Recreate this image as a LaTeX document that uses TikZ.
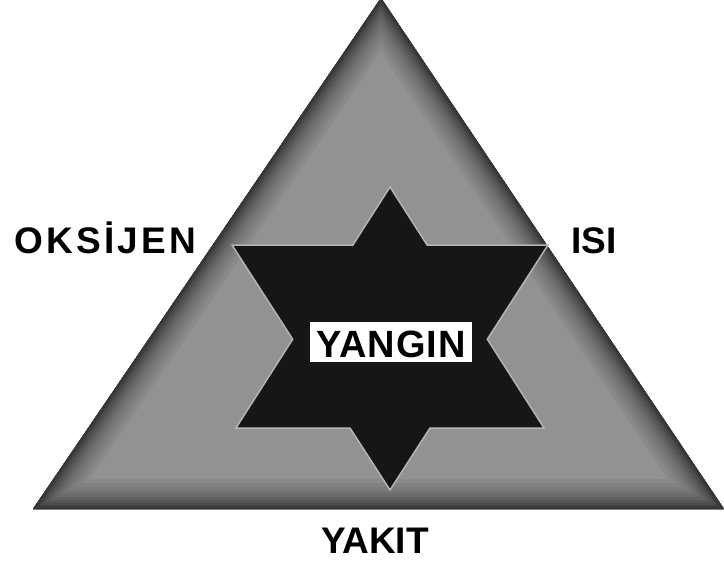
\documentclass[tikz,border=0pt]{standalone}
\usepackage{fontspec}
\setmainfont{Liberation Sans}
\definecolor{trimid}{HTML}{929292}
\definecolor{tridark}{HTML}{2E2E2E}
\definecolor{starfill}{HTML}{161616}
\definecolor{starline}{HTML}{B4B4B4}
\begin{document}
\begin{tikzpicture}[x=1pt,y=-1pt,
  lbl/.style={font=\fontsize{36}{40}\selectfont\bfseries, inner sep=0pt, text=black},
  tri/.style={line join=round}]
\useasboundingbox (0,0) rectangle (724,565);
% triangle
\coordinate (T1) at (33,509);
\coordinate (T2) at (724,509);
\coordinate (T3) at (381,-2);
\fill[trimid] (T1)--(T2)--(T3)--cycle;
\begin{scope}
  \clip (T1)--(T2)--(T3)--cycle;
  \foreach \w/\p in {60/8,52/16,44/24,36/32,30/40,24/50,18/60,13/70,8/82,4/92} {
    \draw[tridark!\p!trimid, line width=\w, tri] (T1)--(T2)--(T3)--cycle;
  }
\end{scope}
% star
\filldraw[fill=starfill, draw=starline, line width=1.5, line join=miter]
  (390,187) -- (427.1,245) -- (548,245) -- (487.3,339.2) -- (544,428) -- (430,428)
  -- (390,490) -- (350,428) -- (236,428) -- (292.7,339.2) -- (232,245) -- (352.9,245) -- cycle;
% labels
\node[lbl, fill=white, text height=35pt, text depth=5pt, inner xsep=6pt, anchor=base,
      font=\fontsize{38}{40}\selectfont\bfseries\addfontfeatures{LetterSpace=3}]
      (yangin) at (391,357) {YANGIN};
\node[lbl, anchor=base west, font=\fontsize{37}{40}\selectfont\bfseries\addfontfeatures{LetterSpace=9}]
      (oksijen) at (14,253) {OKSİJEN};
\node[lbl, anchor=base west, font=\fontsize{37}{40}\selectfont\bfseries] (isi) at (571,253) {ISI};
\node[lbl, anchor=base, font=\fontsize{37}{40}\selectfont\bfseries] (yakit) at (375,553) {YAKIT};
\end{tikzpicture}
\end{document}
